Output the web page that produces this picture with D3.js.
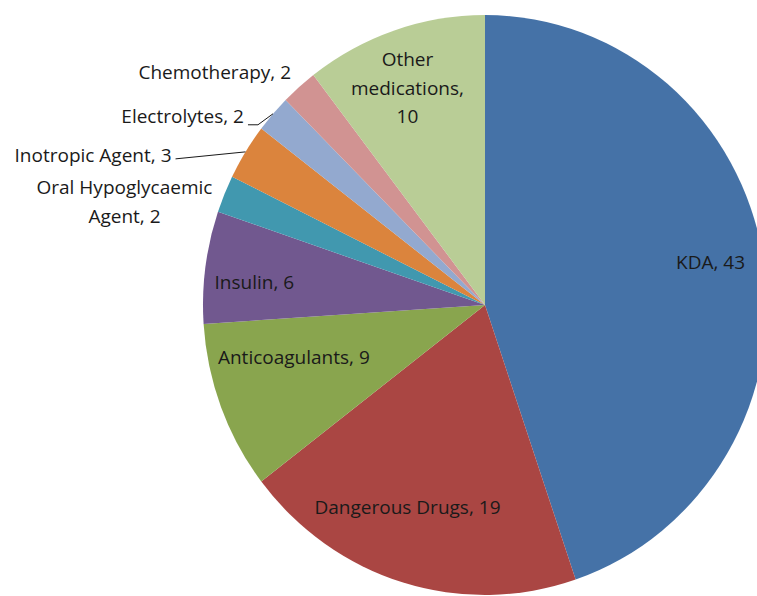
<!DOCTYPE html>
<html>
<head>
<meta charset="utf-8" />
<title>Medication categories</title>
<script src="https://cdn.jsdelivr.net/npm/d3@7"></script>
<style>
  body { margin: 0; background: #fff; }
  .lbl { font-family: "Open Sans", sans-serif; font-size: 19px; fill: #1a1a1a; }
  .leader { fill: none; stroke: #1a1a1a; stroke-width: 1; }
</style>
</head>
<body>
<svg width="757" height="596"></svg>
<script>
// data, clockwise from 12 o'clock
var categories = ["KDA", "Dangerous Drugs", "Anticoagulants", "Insulin",
  "Oral Hypoglycaemic Agent", "Inotropic Agent", "Electrolytes", "Chemotherapy", "Other medications"];
var values = [43, 19, 9, 6, 2, 3, 2, 2, 10];
var labelLines = [["KDA, 43"], ["Dangerous Drugs, 19"], ["Anticoagulants, 9"], ["Insulin, 6"],
  ["Oral Hypoglycaemic", "Agent, 2"], ["Inotropic Agent, 3"], ["Electrolytes, 2"], ["Chemotherapy, 2"],
  ["Other", "medications,", "10"]];
var colors = ["#4572A7", "#AA4643", "#89A54E", "#71588F", "#4198AF", "#DB843D", "#93A9CF", "#D19392", "#B9CD96"];

// layout of the labels (nudges from the computed anchor points)
// inside labels: offset from the centroid at 0.8 r; outside: offset from the slice's rim point
var labelLayout = [
  {pos: "in", dx: 3, dy: -5},
  {pos: "in", dx: -12, dy: -20},
  {pos: "in", dx: 20, dy: -29},
  {pos: "in", dx: -7, dy: 8},
  {pos: "out", anchor: "middle", dx: -100, dy: 8},
  {pos: "out", anchor: "end", dx: -74, dy: 3, leader: [[4, 4]]},
  {pos: "out", anchor: "end", dx: -29, dy: 3, leader: [[4, 8], [14, 8]]},
  {pos: "out", anchor: "end", dx: -8, dy: -15},
  {pos: "in", dx: -5, dy: 3}
];

var cx = 485, cy = 305, rx = 282, ry = 290;
var sy = ry / rx;
var lineH = 28.5;

var svg = d3.select("svg");

var pie = d3.pie().sort(null).value(function (d) { return d; });
var arcs = pie(values);
var arc = d3.arc().innerRadius(0).outerRadius(rx);

// pie is slightly stretched vertically in the original
var g = svg.append("g").attr("transform", "translate(" + cx + "," + cy + ") scale(1," + sy + ")");
g.selectAll("path").data(arcs).enter().append("path")
  .attr("d", arc)
  .attr("fill", function (d, i) { return colors[i]; });

function pointAt(angle, r) {
  return [cx + r * Math.sin(angle), cy - r * Math.cos(angle) * sy];
}

var lab = svg.append("g");
arcs.forEach(function (d, i) {
  var mid = (d.startAngle + d.endAngle) / 2;
  var L = labelLayout[i];
  var base = L.pos == "in" ? pointAt(mid, 0.8 * rx) : pointAt(mid, rx);
  var x = base[0] + L.dx, y = base[1] + L.dy;
  var lines = labelLines[i];
  var t = lab.append("text").attr("class", "lbl")
    .attr("text-anchor", L.anchor || "middle");
  lines.forEach(function (s, k) {
    t.append("tspan").attr("x", x)
      .attr("y", y + (k - (lines.length - 1) / 2) * lineH)
      .attr("dy", "0.35em")
      .text(s);
  });
  if (L.leader) {
    var pts = L.leader.map(function (p) { return [x + p[0], y + p[1]]; });
    pts.push(pointAt(mid, rx));
    lab.append("path").attr("class", "leader").attr("d", d3.line()(pts));
  }
});
</script>
</body>
</html>
